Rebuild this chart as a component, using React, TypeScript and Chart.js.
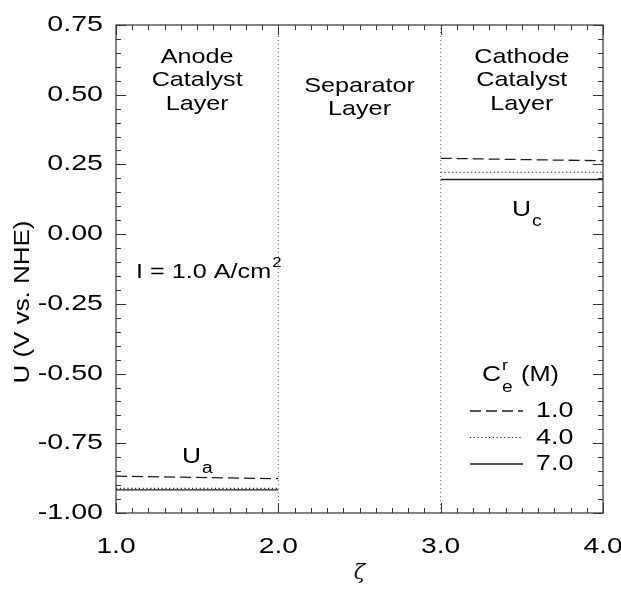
import React, { useEffect, useRef } from "react";
import { Chart, registerables } from "chart.js";

Chart.register(...registerables);

// ---- data ----
const xMin = 1.0;
const xMax = 4.0;
const yMin = -1.0;
const yMax = 0.75;
const xTickLabels = ["1.0", "2.0", "3.0", "4.0"];
const yTickLabels = ["0.75", "0.50", "0.25", "0.00", "-0.25", "-0.50", "-0.75", "-1.00"];
const layerBoundaries = [2.0, 3.0];
const layerNames = [
  ["Anode", "Catalyst", "Layer"],
  ["Separator", "Layer"],
  ["Cathode", "Catalyst", "Layer"],
];
const anodeX = [1.0, 2.0];
const cathodeX = [3.0, 4.0];
const concentrations = ["1.0", "4.0", "7.0"];
const anodeU_1 = [-0.868, -0.877];
const anodeU_4 = [-0.912, -0.912];
const anodeU_7 = [-0.917, -0.917];
const cathodeU_1 = [0.272, 0.263];
const cathodeU_4 = [0.222, 0.222];
const cathodeU_7 = [0.196, 0.196];

const FONT = "'Liberation Sans', Arial, sans-serif";
const STRETCH = 1.2;
const INK = "#1c1c1c";

function txt(ctx: CanvasRenderingContext2D, s: string, x: number, y: number, size: number, align: CanvasTextAlign = "left", stretch = STRETCH) {
  ctx.save();
  ctx.font = `${size}px ${FONT}`;
  ctx.fillStyle = "#000";
  ctx.textBaseline = "middle";
  ctx.textAlign = align;
  ctx.translate(x, y);
  ctx.scale(stretch, 1);
  ctx.fillText(s, 0, 0);
  ctx.restore();
}
function w(ctx: CanvasRenderingContext2D, s: string, size: number, stretch = STRETCH) {
  ctx.save();
  ctx.font = `${size}px ${FONT}`;
  const m = ctx.measureText(s).width * stretch;
  ctx.restore();
  return m;
}

const lineStyles = [
  { dash: [11, 5], width: 1.3 },
  { dash: [1.2, 2.6], width: 1.2 },
  { dash: [] as number[], width: 1.4 },
];

const decor = {
  id: "decor",
  afterDraw(chart: any) {
    const ctx: CanvasRenderingContext2D = chart.ctx;
    const xs = chart.scales.x;
    const ys = chart.scales.y;
    const { left, right, top, bottom } = chart.chartArea;
    ctx.save();
    // frame
    ctx.strokeStyle = "#333";
    ctx.lineWidth = 1.2;
    ctx.strokeRect(left, top, right - left, bottom - top);
    // ticks
    ctx.lineWidth = 1;
    ctx.beginPath();
    for (let i = 0; i <= 30; i++) {
      const px = Math.round(xs.getPixelForValue(xMin + i * 0.1)) + 0.5;
      const len = i % 10 === 0 ? 10 : 5;
      ctx.moveTo(px, bottom);
      ctx.lineTo(px, bottom - len);
      ctx.moveTo(px, top);
      ctx.lineTo(px, top + len);
    }
    for (let i = 0; i <= 35; i++) {
      const py = Math.round(ys.getPixelForValue(yMin + i * 0.05)) + 0.5;
      const len = i % 5 === 0 ? 10 : 5;
      ctx.moveTo(left, py);
      ctx.lineTo(left + len, py);
      ctx.moveTo(right, py);
      ctx.lineTo(right - len, py);
    }
    ctx.stroke();
    // tick labels
    xTickLabels.forEach((l) => {
      txt(ctx, l, xs.getPixelForValue(parseFloat(l)), bottom + 34, 22, "center", 1.28);
    });
    yTickLabels.forEach((l) => {
      txt(ctx, l, left - 13, ys.getPixelForValue(parseFloat(l)), 22, "right", 1.3);
    });
    // axis titles
    ctx.save();
    ctx.translate(23, 302);
    ctx.rotate(-Math.PI / 2);
    txt(ctx, "U (V vs. NHE)", 0, 0, 22, "center", 1.18);
    ctx.restore();
    ctx.save();
    ctx.font = "italic 21px 'DejaVu Serif', serif";
    ctx.fillStyle = "#111";
    ctx.textAlign = "center";
    ctx.textBaseline = "middle";
    ctx.fillText("ζ", (left + right) / 2, 574);
    ctx.restore();
    // layer names
    const bounds = [xMin, ...layerBoundaries, xMax];
    layerNames.forEach((lines, k) => {
      const cx = xs.getPixelForValue((bounds[k] + bounds[k + 1]) / 2);
      const y0 = lines.length === 3 ? 57 : 86;
      lines.forEach((s, j) => txt(ctx, s, cx, y0 + j * 23.5, 21, "center"));
    });
    // current density
    let x = 136;
    txt(ctx, "I = 1.0 A/cm", x, 272, 21);
    x += w(ctx, "I = 1.0 A/cm", 21);
    txt(ctx, "2", x + 1, 263, 14);
    // U_a, U_c
    txt(ctx, "U", 182, 457, 22);
    txt(ctx, "a", 182 + w(ctx, "U", 22) + 1, 469, 16);
    txt(ctx, "U", 512, 210, 22);
    txt(ctx, "c", 512 + w(ctx, "U", 22) + 1, 222, 16);
    // legend
    x = 482;
    txt(ctx, "C", x, 375, 22);
    x += w(ctx, "C", 22);
    txt(ctx, "r", x + 1, 366, 15);
    txt(ctx, "e", x + 1, 388, 16);
    txt(ctx, "(M)", x + 20, 375, 22, "left", 1.15);
    concentrations.forEach((c, i) => {
      const y = 411 + i * 26.5;
      const st = lineStyles[i];
      ctx.save();
      ctx.strokeStyle = INK;
      ctx.lineWidth = st.width;
      ctx.setLineDash(st.dash);
      ctx.beginPath();
      ctx.moveTo(470, y);
      ctx.lineTo(523, y);
      ctx.stroke();
      ctx.restore();
      txt(ctx, c, 536, y, 22, "left", 1.22);
    });
    ctx.restore();
  },
};

function pts(xv: number[], yv: number[]) {
  return xv.map((v, i) => ({ x: v, y: yv[i] }));
}

export default function App() {
  const ref = useRef<HTMLCanvasElement>(null);
  useEffect(() => {
    if (!ref.current) return;
    const series = [
      { x: anodeX, y: anodeU_1, s: 0 },
      { x: anodeX, y: anodeU_4, s: 1 },
      { x: anodeX, y: anodeU_7, s: 2 },
      { x: cathodeX, y: cathodeU_1, s: 0 },
      { x: cathodeX, y: cathodeU_4, s: 1 },
      { x: cathodeX, y: cathodeU_7, s: 2 },
    ];
    const datasets: any[] = series.map((d, i) => ({
      label: "C=" + concentrations[d.s] + (i < 3 ? " anode" : " cathode"),
      data: pts(d.x, d.y),
      borderColor: INK,
      borderWidth: lineStyles[d.s].width,
      borderDash: lineStyles[d.s].dash,
      pointRadius: 0,
      showLine: true,
      fill: false,
      tension: 0,
    }));
    layerBoundaries.forEach((b) => {
      datasets.push({
        label: "boundary " + b,
        data: [{ x: b, y: yMin }, { x: b, y: yMax }],
        borderColor: "#666",
        borderWidth: 1,
        borderDash: [1, 3],
        pointRadius: 0,
        showLine: true,
        fill: false,
      });
    });
    const chart = new Chart(ref.current, {
      type: "scatter",
      data: { datasets },
      options: {
        animation: false,
        responsive: false,
        devicePixelRatio: 1,
        layout: { padding: { left: 0, right: 18, top: 25, bottom: 0 } },
        plugins: { legend: { display: false }, tooltip: { enabled: false } },
        scales: {
          x: {
            type: "linear",
            min: xMin,
            max: xMax,
            grid: { display: false },
            border: { display: false },
            ticks: { display: false },
            afterFit: (s: any) => { s.height = 77; },
          },
          y: {
            type: "linear",
            min: yMin,
            max: yMax,
            grid: { display: false },
            border: { display: false },
            ticks: { display: false },
            afterFit: (s: any) => { s.width = 116; },
          },
        },
      },
      plugins: [decor],
    } as any);
    return () => chart.destroy();
  }, []);
  return (
    <div style={{ position: "absolute", left: 0, top: 0, width: 621, height: 590, background: "#fff" }}>
      <canvas ref={ref} width={621} height={590} style={{ width: 621, height: 590, display: "block" }} />
    </div>
  );
}
